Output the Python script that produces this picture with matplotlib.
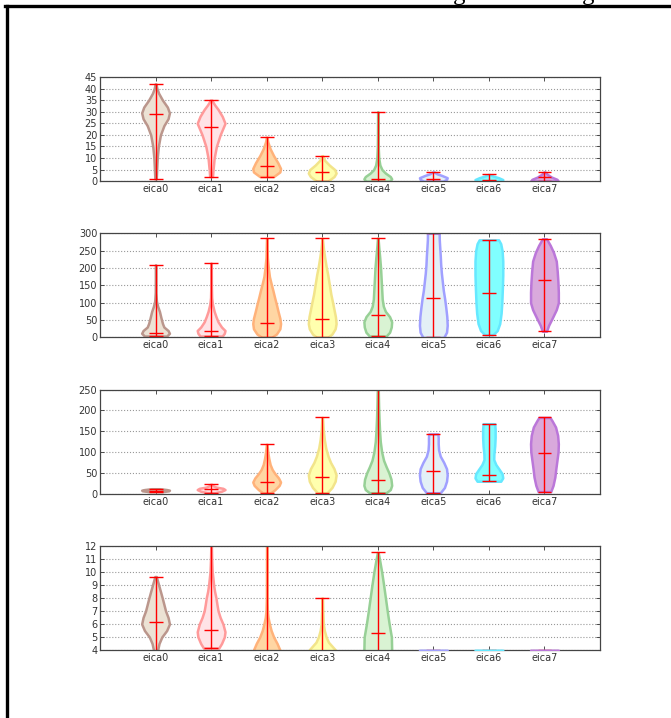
import numpy as np
import matplotlib
matplotlib.use('Agg')
import matplotlib.pyplot as plt
from matplotlib.lines import Line2D

labels = ['eica0', 'eica1', 'eica2', 'eica3', 'eica4', 'eica5', 'eica6', 'eica7']

face_colors = ['#ece2d4', '#ffe3e6', '#ffd6a3', '#ffffae', '#d9f3d3', '#e3f0f6', '#80ffff', '#d9a9dc']
edge_colors = ['#bb968c', '#ff9a9a', '#ffb27a', '#f2e48a', '#97d096', '#a0a0ff', '#66e8ff', '#bb77d9']

# each violin: list of (value, relative width), plus its median
p1_med = [29, 23.5, 6.5, 4, 1, 0.8, 0.5, 1.8]
p1_shape = [
    [(1, 0.05), (5, 0.08), (10, 0.12), (15, 0.2), (20, 0.35), (24, 0.6), (27, 0.9), (29.5, 1.0), (32, 0.85), (35, 0.5), (38, 0.22), (40, 0.1), (42, 0.03)],
    [(2, 0.1), (5, 0.14), (10, 0.22), (15, 0.38), (20, 0.65), (25, 1.0), (28, 0.8), (31, 0.5), (33, 0.25), (35, 0.05)],
    [(2, 0.5), (4, 0.95), (5.5, 1.0), (8, 0.8), (11, 0.5), (14, 0.25), (17, 0.08), (19, 0.02)],
    [(0, 0.4), (2, 0.85), (3.5, 1.0), (5, 0.9), (7, 0.5), (9, 0.18), (11, 0.03)],
    [(0, 0.85), (1, 1.0), (2, 0.9), (3.5, 0.55), (5, 0.3), (7, 0.15), (10, 0.07), (15, 0.03), (20, 0.02), (30, 0.01)],
    [(0, 0.7), (0.8, 0.95), (1.5, 1.0), (2.5, 0.6), (3.2, 0.25), (4, 0.05)],
    [(0, 0.9), (0.7, 1.0), (1.5, 0.7), (2.2, 0.3), (2.9, 0.05)],
    [(0, 1.0), (0.8, 0.9), (1.8, 0.5), (3, 0.2), (4, 0.03)],
]

p2_med = [13.5, 17.4, 40.6, 52, 66, 115, 128, 165]
p2_shape = [
    [(4, 0.8), (12, 1.0), (20, 0.9), (30, 0.6), (40, 0.5), (55, 0.4), (75, 0.28), (90, 0.15), (105, 0.06), (130, 0.02), (209, 0.01)],
    [(4, 0.8), (12, 0.95), (20, 1.0), (30, 0.75), (45, 0.5), (60, 0.35), (75, 0.22), (95, 0.1), (115, 0.04), (150, 0.02), (214, 0.01)],
    [(0, 0.35), (10, 0.7), (25, 0.95), (40, 1.0), (55, 0.95), (75, 0.82), (95, 0.7), (115, 0.57), (135, 0.45), (155, 0.32), (175, 0.2), (200, 0.12), (230, 0.05), (286, 0.01)],
    [(0, 0.4), (10, 0.7), (25, 0.93), (40, 1.0), (60, 0.95), (80, 0.85), (100, 0.75), (125, 0.62), (150, 0.52), (180, 0.4), (205, 0.28), (230, 0.18), (255, 0.09), (286, 0.01)],
    [(4, 0.6), (15, 0.85), (30, 0.97), (45, 1.0), (60, 0.85), (75, 0.55), (90, 0.4), (110, 0.32), (140, 0.28), (170, 0.24), (200, 0.2), (230, 0.14), (260, 0.07), (286, 0.02)],
    [(0, 0.75), (15, 0.95), (35, 1.0), (60, 0.97), (85, 0.9), (110, 0.82), (135, 0.72), (160, 0.65), (185, 0.58), (210, 0.53), (235, 0.5), (260, 0.46), (280, 0.43), (300, 0.42)],
    [(8, 0.3), (20, 0.6), (40, 0.78), (70, 0.88), (100, 0.93), (140, 0.97), (180, 1.0), (220, 1.0), (250, 0.95), (270, 0.85), (281, 0.7)],
    [(18, 0.15), (35, 0.3), (55, 0.55), (80, 0.85), (100, 1.0), (130, 1.0), (160, 0.97), (190, 0.92), (220, 0.85), (245, 0.65), (265, 0.42), (284, 0.15)],
]

p3_med = [7, 11.3, 28, 39.5, 32, 55, 46, 97]
p3_shape = [
    [(5, 0.5), (7, 0.95), (8.5, 1.0), (10, 0.8), (12, 0.3)],
    [(2.5, 0.3), (6, 0.75), (10, 1.0), (13, 0.85), (16, 0.35), (19, 0.15), (22.5, 0.05)],
    [(2.4, 0.3), (10, 0.6), (20, 0.9), (28, 1.0), (38, 0.85), (48, 0.6), (58, 0.4), (70, 0.25), (85, 0.15), (100, 0.08), (118.5, 0.02)],
    [(2.4, 0.35), (15, 0.7), (30, 0.93), (45, 1.0), (60, 0.85), (75, 0.6), (90, 0.42), (110, 0.25), (130, 0.15), (155, 0.07), (183, 0.02)],
    [(2.4, 0.6), (10, 0.9), (20, 1.0), (35, 0.95), (50, 0.8), (65, 0.6), (80, 0.42), (100, 0.28), (125, 0.18), (150, 0.13), (180, 0.09), (210, 0.06), (240, 0.04), (270, 0.02), (300, 0.01)],
    [(2.4, 0.5), (15, 0.8), (30, 0.95), (45, 1.0), (60, 0.95), (75, 0.75), (90, 0.5), (105, 0.38), (120, 0.35), (135, 0.35), (143.5, 0.33)],
    [(30, 0.85), (38, 1.0), (48, 0.95), (58, 0.75), (70, 0.5), (82, 0.35), (95, 0.36), (115, 0.42), (135, 0.45), (155, 0.45), (168, 0.42)],
    [(5, 0.45), (20, 0.62), (40, 0.75), (60, 0.82), (80, 0.9), (100, 0.98), (120, 1.0), (140, 0.95), (160, 0.8), (175, 0.55), (183, 0.4)],
]

p4_med = [6.13, 5.56, 3, 3, 5.28, 2, 2, 2]
p4_shape = [
    [(3.5, 0.05), (4, 0.15), (4.5, 0.25), (5, 0.45), (5.5, 0.8), (6, 1.0), (6.5, 0.9), (7, 0.72), (7.5, 0.6), (8, 0.48), (8.5, 0.35), (9, 0.22), (9.64, 0.05)],
    [(4.15, 0.55), (4.5, 0.75), (5, 0.95), (5.4, 1.0), (6, 0.85), (6.5, 0.65), (7, 0.5), (7.5, 0.42), (8, 0.35), (8.5, 0.25), (9, 0.18), (10, 0.08), (11, 0.04), (12, 0.02), (20, 0.01)],
    [(2, 0.8), (3, 1.0), (4, 0.95), (4.5, 0.75), (5, 0.5), (5.5, 0.32), (6, 0.2), (6.5, 0.1), (7, 0.05), (8, 0.02), (12, 0.01), (30, 0.01)],
    [(2, 0.7), (3, 1.0), (4, 0.95), (4.3, 0.7), (4.6, 0.45), (5, 0.28), (5.5, 0.15), (6, 0.08), (7, 0.04), (8, 0.02)],
    [(2, 0.9), (4, 1.0), (5, 0.98), (5.5, 0.9), (6, 0.82), (6.5, 0.75), (7, 0.68), (8, 0.55), (9, 0.42), (10, 0.28), (10.8, 0.15), (11.49, 0.03)],
    [(0, 0.8), (2, 1.0), (3.98, 1.0)],
    [(0, 0.8), (2, 1.0), (3.98, 1.0)],
    [(0, 0.8), (2, 1.0), (3.98, 1.0)],
]

panels = [(p1_shape, p1_med, 45, 0, 5), (p2_shape, p2_med, 300, 0, 50),
          (p3_shape, p3_med, 250, 0, 50), (p4_shape, p4_med, 12, 4, 1)]

fig, axes = plt.subplots(4, 1, figsize=(6.71, 7.18), dpi=100)
fig.subplots_adjust(left=100/671, right=600/671, bottom=68/718, top=641/718, hspace=0.5)

for ax, (shapes, meds, ytop, ybot, step) in zip(axes, panels):
    stats = []
    for shp, m in zip(shapes, meds):
        ys = np.array([p[0] for p in shp])
        ws = np.array([p[1] for p in shp])
        stats.append({'coords': ys, 'vals': ws, 'mean': m, 'median': m,
                      'min': ys[0], 'max': ys[-1]})
    parts = ax.violin(stats, positions=range(1, 9), widths=0.5,
                      showextrema=True, showmedians=True)
    for pc, fc, ec in zip(parts['bodies'], face_colors, edge_colors):
        pc.set_alpha(1)
        pc.set_facecolor(fc)
        pc.set_edgecolor(ec)
        pc.set_linewidth(1.8)
    for key in ['cbars', 'cmins', 'cmaxes', 'cmedians']:
        parts[key].set_color('red')
        parts[key].set_linewidth(1.0)
    if ybot == 4:
        # the flat tops peeking over the lower spine
        for pc in parts['bodies'][5:]:
            pc.set_zorder(2.6)

    ax.set_xlim(0, 9)
    ax.set_ylim(ybot, ytop)
    ax.set_yticks(np.arange(ybot, ytop + step / 2, step))
    ax.set_xticks(range(1, 9))
    ax.set_xticklabels(labels)
    ax.yaxis.grid(True, linestyle=':', color='#999999', linewidth=0.8)
    ax.set_axisbelow(True)
    ax.tick_params(direction='in', top=True, right=True, length=3, width=0.6,
                   labelsize=7, pad=2, colors='#333333')
    for s in ax.spines.values():
        s.set_color('#444444')
        s.set_linewidth(0.9)

# page border of the screenshot
fig.add_artist(Line2D([7/671, 7/671], [0, 1 - 6/718], transform=fig.transFigure, color='k', lw=2.4))
fig.add_artist(Line2D([5/671, 1], [1 - 6/718, 1 - 6/718], transform=fig.transFigure, color='k', lw=2.4))
fig.text(459/671, 1.0, 'g', va='baseline', ha='center', fontsize=18, family='Liberation Serif')
fig.text(588/671, 1.0, 'g', va='baseline', ha='center', fontsize=18, family='Liberation Serif')

fig.savefig('out.png', dpi=100)
